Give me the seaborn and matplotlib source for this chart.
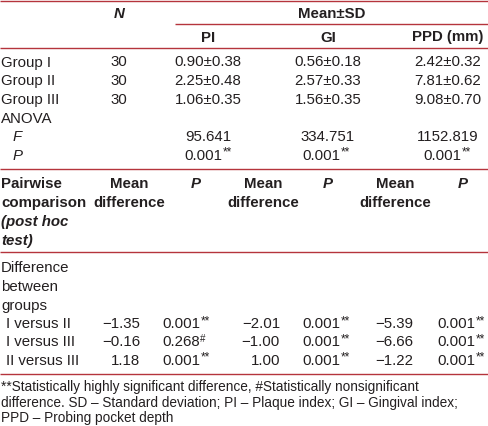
import matplotlib
matplotlib.use("Agg")
import matplotlib.pyplot as plt
import seaborn as sns

sns.set_theme(style="white")
plt.rcParams['font.family'] = ['Liberation Sans', 'DejaVu Sans']

# ---- data ----
groups = ["Group I", "Group II", "Group III"]
n_values = ["30", "30", "30"]
measures = ["PI", "GI", "PPD (mm)"]
mean_sd = [["0.90\u00b10.38", "0.56\u00b10.18", "2.42\u00b10.32"],
           ["2.25\u00b10.48", "2.57\u00b10.33", "7.81\u00b10.62"],
           ["1.06\u00b10.35", "1.56\u00b10.35", "9.08\u00b10.70"]]
anova_f = ["95.641", "334.751", "1152.819"]
anova_p = ["0.001", "0.001", "0.001"]
anova_p_mark = ["**", "**", "**"]
pairs = ["I versus II", "I versus III", "II versus III"]
mean_diff = [["\u22121.35", "\u22122.01", "\u22125.39"],
             ["\u22120.16", "\u22121.00", "\u22126.66"],
             ["1.18", "1.00", "\u22121.22"]]
pair_p = [["0.001", "0.001", "0.001"],
          ["0.268", "0.001", "0.001"],
          ["0.001", "0.001", "0.001"]]
pair_p_mark = [["**", "**", "**"],
               ["#", "**", "**"],
               ["**", "**", "**"]]
footnote = ["**Statistically highly significant difference, #Statistically nonsignificant",
            "difference. SD \u2013 Standard deviation; PI \u2013 Plaque index; GI \u2013 Gingival index;",
            "PPD \u2013 Probing pocket depth"]

# ---- layout ----
W, H = 488, 426
fig = plt.figure(figsize=(W / 100, H / 100), dpi=100)
ax = fig.add_axes([0, 0, 1, 1])
ax.set_xlim(0, W)
ax.set_ylim(H, 0)
ax.axis("off")

TXT = "#231f20"
RED = "#b5343c"
FS = 10.8
FS_SUP = 8.5
FS_NOTE = 9.8

renderer = fig.canvas.get_renderer()

def t(x, y, s, ha="left", **kw):
    kw.setdefault("fontsize", FS)
    return ax.text(x, y, s, ha=ha, va="baseline", color=TXT, **kw)

def hline(y, x0=0, x1=W):
    ax.plot([x0, x1], [y, y], color=RED, lw=1.0, solid_capstyle="butt")

def val_sup(x, y, s, mark, ha="left"):
    txt = t(x, y, s, ha=ha)
    bb = txt.get_window_extent(renderer=renderer)
    x_end = ax.transData.inverted().transform((bb.x1, 0))[0]
    ax.text(x_end + 0.8, y - 3.8, mark, ha="left", va="baseline", color=TXT,
            fontsize=FS_SUP if mark == "**" else FS_SUP - 1.5)

# lines
hline(0.8)
hline(24.3, 175, W)
hline(47.5)
hline(169.3)
hline(252.3)
hline(374.0)

# header top
t(119, 18, "N", ha="center", fontstyle="italic", fontweight="bold")
t(332, 18, "Mean\u00b1SD", ha="center", fontweight="bold")
col_c = [208, 328, 448]
for c, m in zip(col_c, measures):
    t(c, 41.5, m, ha="center", fontweight="bold")

row_y = [66.5, 85.3, 104.0]
for y, g, n, vals in zip(row_y, groups, n_values, mean_sd):
    t(1, y, g)
    t(119, y, n, ha="center")
    for c, v in zip(col_c, vals):
        t(c, y, v, ha="center")

t(1, 123, "ANOVA")
t(13, 141.3, "F", fontstyle="italic")
t(13, 159.5, "P", fontstyle="italic")
p_left = [184, 302, 423]
for c, f in zip(col_c, anova_f):
    t(c, 141.3, f, ha="center")
for xl, p, mk in zip(p_left, anova_p, anova_p_mark):
    val_sup(xl, 159.5, p, mk)

# lower header
hy = [188.5, 207.2, 226.0, 245.0]
t(1, hy[0], "Pairwise", fontweight="bold")
t(1, hy[1], "comparison", fontweight="bold")
t(1, hy[2], "(post hoc", fontweight="bold", fontstyle="italic")
t(1, hy[3], "test)", fontweight="bold", fontstyle="italic")
md_c = [129, 263, 395]
p_c = [196, 328, 463]
for c in md_c:
    t(c, hy[0], "Mean", ha="center", fontweight="bold")
    t(c, hy[1], "difference", ha="center", fontweight="bold")
for c in p_c:
    t(c, hy[0], "P", ha="center", fontweight="bold", fontstyle="italic")

t(1, 271.5, "Difference")
t(1, 290.8, "between")
t(1, 310.0, "groups")
pr_y = [328.0, 346.3, 364.6]
md_right = [140, 280, 413]
pp_left = [162, 302, 437]
for y, pr, mds, ps, mks in zip(pr_y, pairs, mean_diff, pair_p, pair_p_mark):
    t(6, y, pr)
    for xr, v in zip(md_right, mds):
        t(xr, y, v, ha="right")
    for xl, p, mk in zip(pp_left, ps, mks):
        val_sup(xl, y, p, mk)

for y, line in zip([391.5, 407.0, 422.3], footnote):
    t(1, y, line, fontsize=FS_NOTE)

fig.savefig("out.png", dpi=100, facecolor="white")
